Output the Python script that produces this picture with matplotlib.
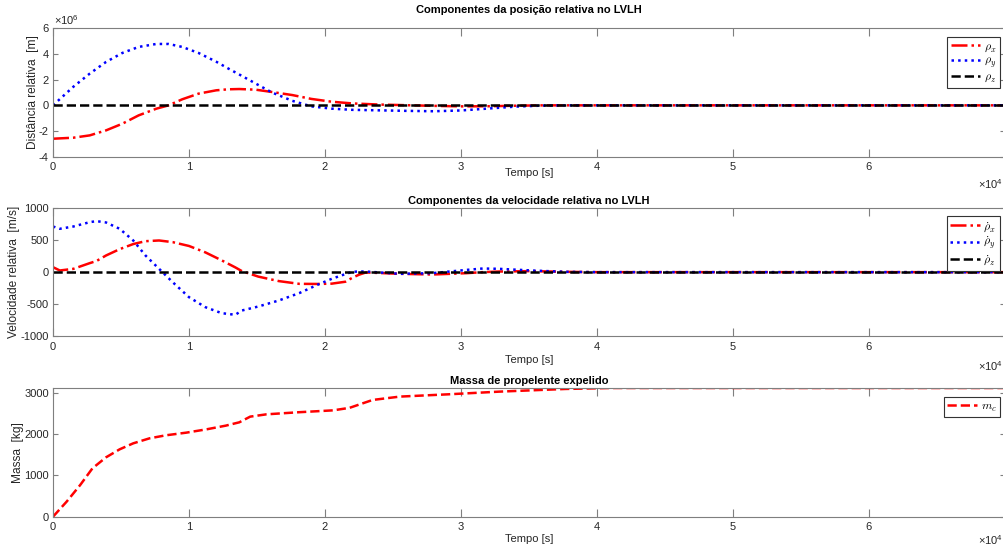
import numpy as np
import matplotlib
matplotlib.use("Agg")
import matplotlib.pyplot as plt

# ======= DATA (time in 1e4 s) ===========
# relative position in LVLH, units of 1e6 m
t_pos = [0, 0.15, 0.27, 0.39, 0.51, 0.63, 0.76, 0.85, 0.95, 1.07, 1.2, 1.29, 1.37, 1.49,
         1.61, 1.76, 1.9, 2.05, 2.2, 2.4, 2.6, 2.8, 3.0, 3.2, 3.4, 3.6, 3.8, 4.0, 5.0, 6.0, 7.0]
rho_x = [-2.6, -2.52, -2.34, -1.95, -1.43, -0.78, -0.26, 0.0, 0.47, 0.91, 1.17, 1.25, 1.27, 1.22,
         1.04, 0.8, 0.5, 0.28, 0.15, 0.06, 0.01, -0.04, -0.08, -0.07, -0.03, 0.0, 0.0, 0.0, 0.0, 0.0, 0.0]
rho_y = [0.0, 1.45, 2.47, 3.38, 4.08, 4.55, 4.78, 4.78, 4.55, 4.08, 3.4, 2.86, 2.4, 1.7,
         1.0, 0.35, -0.08, -0.26, -0.35, -0.39, -0.43, -0.46, -0.4, -0.25, -0.1, -0.02, 0.0, 0.0, 0.0, 0.0, 0.0]
rho_z = [0.0] * len(t_pos)

# relative velocity in LVLH, m/s
t_vel = [0, 0.05, 0.15, 0.27, 0.32, 0.39, 0.49, 0.59, 0.68, 0.78, 0.88, 1.0, 1.12, 1.24, 1.34,
         1.39, 1.51, 1.66, 1.81, 1.95, 2.05, 2.15, 2.2, 2.25, 2.3, 2.55, 2.79, 3.04, 3.16, 3.28,
         3.52, 3.77, 4.0, 5.0, 6.0, 7.0]
drho_x = [78, 26, 52, 141, 175, 261, 360, 440, 485, 496, 470, 410, 310, 185, 75,
          15, -70, -140, -183, -185, -180, -150, -89, -40, -5, -26, -37, -16, 0, 10,
          16, 5, 0, 0, 0, 0]
drho_y = [715, 679, 715, 783, 799, 778, 679, 496, 261, 52, -157, -392, -548, -642, -668,
          -600, -538, -444, -329, -193, -104, -30, 5, 10, 10, -26, -16, 35, 57, 52,
          26, 5, 0, 0, 0, 0]
drho_z = [0] * len(t_vel)

# expelled propellant mass, kg
t_m = [0, 0.1, 0.2, 0.29, 0.39, 0.49, 0.59, 0.71, 0.83, 0.98, 1.13, 1.27, 1.37, 1.45, 1.57,
       1.81, 2.06, 2.18, 2.35, 2.55, 2.91, 3.28, 3.77, 4.1, 5.0, 6.0, 7.0]
m_c = [0, 363, 766, 1169, 1435, 1628, 1773, 1894, 1967, 2031, 2112, 2200, 2281, 2418, 2474,
       2525, 2570, 2630, 2821, 2902, 2958, 3022, 3087, 3110, 3110, 3110, 3110]

# ======= STYLE ===========
plt.rcParams['font.family'] = ['Liberation Sans', 'DejaVu Sans']
plt.rcParams['mathtext.fontset'] = 'cm'
plt.rcParams['axes.unicode_minus'] = False
AX_COLOR = '#7f7f7f'
TXT_COLOR = '#262626'
FS = 8
FS_LABEL = 8.6

fig = plt.figure(figsize=(10.04, 5.47), dpi=100)
W, H = 1004.0, 547.0


def make_axes(top_px, bot_px):
    return fig.add_axes([53 / W, 1 - bot_px / H, (1005 - 53) / W, (bot_px - top_px) / H])


def style_axes(ax):
    for s in ax.spines.values():
        s.set_color(AX_COLOR)
        s.set_linewidth(0.8)
    ax.tick_params(axis='x', direction='in', length=6, width=0.8, color=AX_COLOR,
                   labelcolor=TXT_COLOR, labelsize=FS, top=True, pad=4)
    ax.tick_params(axis='y', direction='in', length=3.5, width=0.8, color=AX_COLOR,
                   labelcolor=TXT_COLOR, labelsize=FS, right=True, pad=3)
    ax.set_xlim(0, 7)
    ax.set_xticks([0, 1, 2, 3, 4, 5, 6, 7])
    ax.set_xticklabels(['0', '1', '2', '3', '4', '5', '6', ''])


def set_xlabel_top(ax, top_px, bot_px, label_top_px):
    ax.set_xlabel('Tempo [s]', fontsize=FS, color=TXT_COLOR)
    ax.xaxis.set_label_coords(0.5, -(label_top_px - bot_px) / (bot_px - top_px))


def add_legend(ax, right_px, top_px):
    pos = ax.get_position()
    x = (right_px / W - pos.x0) / pos.width
    y = ((1 - top_px / H) - pos.y0) / pos.height
    leg = ax.legend(loc='upper right', bbox_to_anchor=(x, y), borderaxespad=0,
                    fontsize=8.5, fancybox=False, framealpha=1, handlelength=2.5,
                    borderpad=0.3, labelspacing=0.1, handletextpad=0.3)
    leg.get_frame().set_edgecolor('#333333')
    leg.get_frame().set_linewidth(0.8)


LW = 1.8

# ======= TOP: position ===========
ax1 = make_axes(28.3, 156.7)
ax1.plot(t_pos, rho_x, color='r', linestyle='-.', linewidth=LW, label=r'$\rho_x$')
ax1.plot(t_pos, rho_y, color='b', linestyle=':', linewidth=LW, label=r'$\rho_y$')
ax1.plot(t_pos, rho_z, color='k', linestyle='--', linewidth=LW, label=r'$\rho_z$')
style_axes(ax1)
ax1.set_ylim(-4, 6)
ax1.set_yticks([-4, -2, 0, 2, 4, 6])
ax1.set_title('Componentes da posição relativa no LVLH', fontsize=FS, fontweight='bold', pad=11)
ax1.set_ylabel('Distância relativa  [m]', fontsize=FS_LABEL, color=TXT_COLOR, labelpad=0)
set_xlabel_top(ax1, 28.3, 156.7, 168)
add_legend(ax1, 1000, 37)
fig.text(54 / W, 1 - 20 / H, r'$\mathregular{\times10^{6}}$', fontsize=8, color=TXT_COLOR,
         va='center', ha='left')

# ======= MIDDLE: velocity ===========
ax2 = make_axes(208.3, 336.0)
ax2.plot(t_vel, drho_x, color='r', linestyle='-.', linewidth=LW, label=r'$\dot{\rho}_x$')
ax2.plot(t_vel, drho_y, color='b', linestyle=':', linewidth=LW, label=r'$\dot{\rho}_y$')
ax2.plot(t_vel, drho_z, color='k', linestyle='--', linewidth=LW, label=r'$\dot{\rho}_z$')
style_axes(ax2)
ax2.set_ylim(-1000, 1000)
ax2.set_yticks([-1000, -500, 0, 500, 1000])
ax2.set_title('Componentes da velocidade relativa no LVLH', fontsize=FS, fontweight='bold', pad=3)
ax2.set_ylabel('Velocidade relativa  [m/s]', fontsize=FS_LABEL, color=TXT_COLOR, labelpad=0)
set_xlabel_top(ax2, 208.3, 336.0, 355)
add_legend(ax2, 1000, 216)

# ======= BOTTOM: propellant mass ===========
ax3 = make_axes(388.0, 516.7)
ax3.plot(t_m, m_c, color='r', linestyle='--', linewidth=LW, label=r'$m_c$')
style_axes(ax3)
ax3.set_ylim(0, 3110)
ax3.set_yticks([0, 1000, 2000, 3000])
ax3.set_title('Massa de propelente expelido', fontsize=FS, fontweight='bold', pad=3)
ax3.set_ylabel('Massa  [kg]', fontsize=FS_LABEL, color=TXT_COLOR, labelpad=0)
set_xlabel_top(ax3, 388.0, 516.7, 534)
add_legend(ax3, 1000, 397)

for ypx, va in ((184, 'center'), (366, 'center'), (547, 'bottom')):
    fig.text(1003 / W, 1 - ypx / H, r'$\mathregular{\times10^{4}}$', fontsize=8, color=TXT_COLOR,
             va=va, ha='right')

fig.savefig('out.png', dpi=100)
